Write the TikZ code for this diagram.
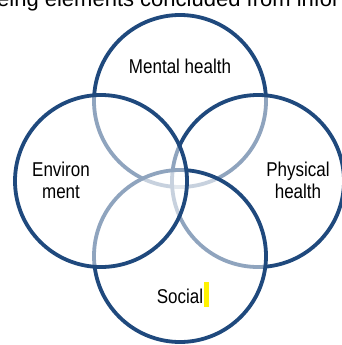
\documentclass[tikz,border=0pt]{standalone}
\usepackage{fontspec}
\setmainfont[FakeStretch=0.85]{Liberation Sans}
\newfontfamily\titlefont{Liberation Sans}
\definecolor{ringblue}{RGB}{31,73,125}
\begin{document}
\begin{tikzpicture}[x=1pt,y=-1pt,
  ring/.style={draw=ringblue,line width=3.8pt,fill=white,fill opacity=0.5},
  lbl/.style={font=\fontsize{20}{22}\selectfont,align=center,text=black,inner sep=0pt}]
\useasboundingbox (0,0) rectangle (342,345);
\clip (0,0) rectangle (342,345);
\node[anchor=base west,inner sep=0pt,font=\titlefont\fontsize{22}{24}\selectfont] (title) at (-3,7) {eing elements concluded from infor};
\draw[ring] (180,101) circle (86);
\draw[ring] (258,181) circle (86);
\draw[ring] (180,256) circle (86);
\draw[ring] (101,181) circle (86);
\node[lbl] (mental) at (180,66) {Mental health};
\node[lbl] (env) at (61,180) {Environ\\ment};
\node[lbl] (phys) at (298,180) {Physical\\health};
\node[lbl] (social) at (180,296) {Social};
\fill[yellow] (204,282) rectangle (209,307);
\end{tikzpicture}
\end{document}
